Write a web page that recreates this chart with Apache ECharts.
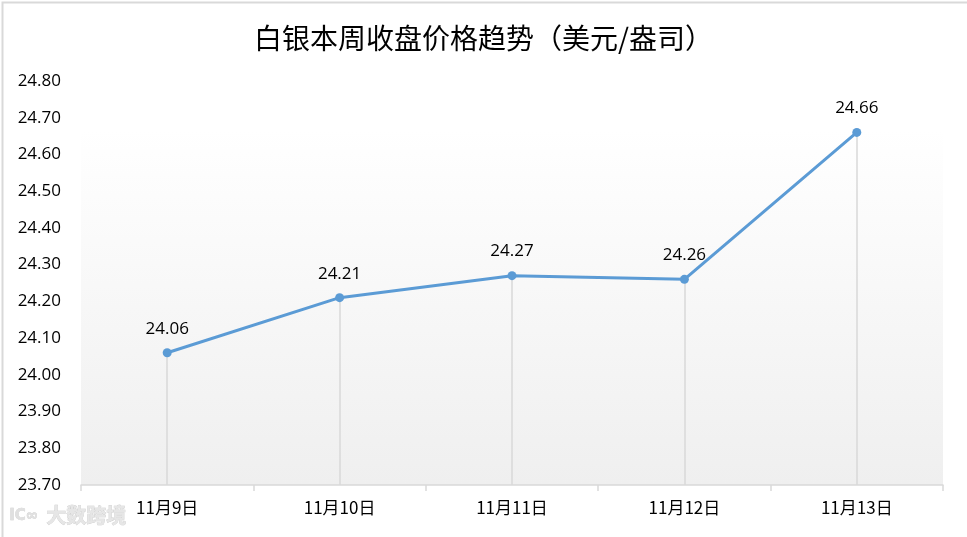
<!DOCTYPE html>
<html><head><meta charset="utf-8">
<script src="https://cdn.jsdelivr.net/npm/echarts@6/dist/echarts.min.js"></script>
<style>html,body{margin:0;padding:0;background:#fff}#c{width:967px;height:537px}</style>
</head><body><div id="c"></div>
<script>
const titleText = '白银本周收盘价格趋势（美元/盎司）';
const categories = ['11月9日','11月10日','11月11日','11月12日','11月13日'];
const prices = [24.06, 24.21, 24.27, 24.26, 24.66];
const yMin = 23.70, yMax = 24.80, yStep = 0.10;
const watermark = '大数跨境';

const FONT = '"Noto Sans CJK SC", "Open Sans", sans-serif';
const chart = echarts.init(document.getElementById('c'));
chart.setOption({
  animation: false,
  backgroundColor: '#fff',
  title: { text: titleText, left: 'center', top: 19,
    textStyle: { fontFamily: FONT, fontSize: 28, fontWeight: 'normal', color: '#000' } },
  grid: { left: 81, right: 24, top: 81, bottom: 52, show: true, borderWidth: 0,
    backgroundColor: { type: 'linear', x: 0, y: 0, x2: 0, y2: 1,
      colorStops: [{ offset: 0, color: '#ffffff' }, { offset: 0.12, color: '#ffffff' }, { offset: 1, color: '#efefef' }] } },
  xAxis: { type: 'category', data: categories, boundaryGap: true,
    axisLine: { lineStyle: { color: '#d9d9d9', width: 1.5 } },
    axisTick: { show: true, length: 6, lineStyle: { color: '#d9d9d9', width: 1.5 } },
    axisLabel: { fontFamily: FONT, fontSize: 17, color: '#000', margin: 14 } },
  yAxis: { type: 'value', min: yMin, max: yMax, interval: yStep,
    axisLine: { show: false }, axisTick: { show: false }, splitLine: { show: false },
    axisLabel: { fontFamily: '"Open Sans", sans-serif', fontSize: 17, color: '#000', margin: 20,
      formatter: v => v.toFixed(2) } },
  series: [{
    type: 'line', data: prices, symbol: 'circle', symbolSize: 9,
    itemStyle: { color: '#5b9bd5' }, lineStyle: { color: '#5b9bd5', width: 3 },
    label: { show: true, position: 'top', distance: 11, color: '#000',
      fontFamily: '"Open Sans", sans-serif', fontSize: 17, formatter: p => p.value.toFixed(2) },
    markLine: { silent: true, symbol: 'none', label: { show: false },
      lineStyle: { color: '#d9d9d9', width: 1.5, type: 'solid' },
      data: prices.map((v, i) => [{ coord: [i, v] }, { coord: [i, yMin] }]) },
    z: 5
  }],
  graphic: [
    { type: 'rect', left: 0, top: 0, shape: { width: 966, height: 536 }, style: { fill: 'none', stroke: '#d9d9d9', lineWidth: 2 }, silent: true },
    { type: 'text', left: 9, top: 508, style: { text: 'IC∞', fill: '#e0e0e0', stroke: '#c8c8c8', lineWidth: 0.5, font: 'bold 15px "DejaVu Sans"' } },
    { type: 'text', left: 46, top: 505, style: { text: watermark, fill: '#e6e6e6', stroke: '#c8c8c8', lineWidth: 0.6, font: 'bold 20px "Noto Sans CJK SC"' } }
  ]
});
</script></body></html>
